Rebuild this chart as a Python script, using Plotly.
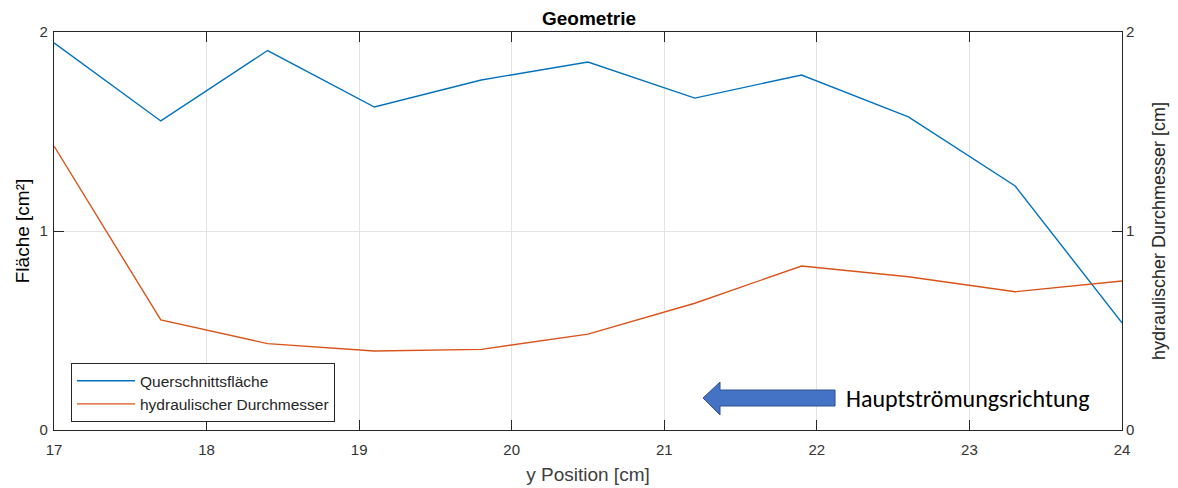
import plotly.graph_objects as go

# Positions along the channel and geometry values
y_position = [17.0, 17.7, 18.4, 19.1, 19.8, 20.5, 21.2, 21.9, 22.6, 23.3, 24.0]
querschnittsflaeche = [1.945, 1.553, 1.907, 1.623, 1.759, 1.849, 1.668, 1.784, 1.573, 1.226, 0.538]
hydraulischer_durchmesser = [1.427, 0.553, 0.434, 0.397, 0.405, 0.482, 0.637, 0.824, 0.770, 0.695, 0.749]

x_ticks = [17, 18, 19, 20, 21, 22, 23, 24]
y_ticks = [0, 1, 2]

BLUE = "#0072BD"
ORANGE = "#D95319"
AXIS = "#262626"
SANS = "Liberation Sans, Arial, sans-serif"
TICKFONT = dict(family=SANS, size=15, color="#333333")

fig = go.Figure()
fig.add_trace(go.Scatter(
    x=y_position, y=querschnittsflaeche, mode="lines",
    name="Querschnittsfläche", line=dict(color=BLUE, width=1.4),
    yaxis="y",
))
fig.add_trace(go.Scatter(
    x=y_position, y=hydraulischer_durchmesser, mode="lines",
    name="hydraulischer Durchmesser", line=dict(color=ORANGE, width=1.4),
    yaxis="y2",
))

# Flow direction arrow (block arrow pointing left)
fig.add_shape(
    type="path", xref="paper", yref="paper",
    path="M 0.6077,0.0804 L 0.6236,0.1206 L 0.6236,0.1005 L 0.7313,0.1005 "
         "L 0.7313,0.0603 L 0.6236,0.0603 L 0.6236,0.0377 Z",
    fillcolor="#4472C4", line=dict(color="#2F528F", width=1),
)
fig.add_annotation(
    x=0.7397, y=0.0804, xref="paper", yref="paper",
    text="Hauptströmungsrichtung", showarrow=False,
    xanchor="left", yanchor="middle",
    font=dict(family="Carlito, Calibri, Open Sans, sans-serif", size=24, color="#000000"),
)

fig.update_layout(
    width=1178, height=488,
    margin=dict(l=54, r=56, t=32, b=58, autoexpand=False),
    paper_bgcolor="white", plot_bgcolor="white",
    title=dict(
        text="<b>Geometrie</b>", x=0.5, xanchor="center", y=0.963, yanchor="middle",
        font=dict(family=SANS, size=19, color="#000000"),
    ),
    xaxis=dict(
        range=[17, 24], tickvals=x_ticks, ticks="inside", ticklen=10,
        tickcolor=AXIS, showline=True, linecolor=AXIS, linewidth=1.2, mirror="ticks",
        showgrid=True, gridcolor="#e3e3e3", gridwidth=1, zeroline=False,
        tickfont=TICKFONT, ticklabelstandoff=6, automargin=False,
        title=dict(text="y Position [cm]", standoff=10,
                   font=dict(family=SANS, size=19, color="#404040")),
    ),
    yaxis=dict(
        range=[0, 2], tickvals=y_ticks, ticks="inside", ticklen=10,
        tickcolor=AXIS, showline=True, linecolor=AXIS, linewidth=1.2, mirror=True,
        showgrid=True, gridcolor="#e3e3e3", gridwidth=1, zeroline=False,
        tickfont=TICKFONT, ticklabelstandoff=2, automargin=False,
        title=dict(text="Fläche [cm²]", standoff=4,
                   font=dict(family=SANS, size=19, color="#000000")),
    ),
    yaxis2=dict(
        range=[0, 2], tickvals=y_ticks, ticks="inside", ticklen=10,
        tickcolor=AXIS, showline=True, linecolor=AXIS, linewidth=1.2,
        overlaying="y", side="right", showgrid=False, zeroline=False,
        tickfont=TICKFONT, automargin=False,
        title=dict(text="hydraulischer Durchmesser [cm]", standoff=18,
                   font=dict(family=SANS, size=18, color="#262626")),
    ),
    legend=dict(
        x=0.0159, y=0.168, xanchor="left", yanchor="top",
        bgcolor="white", bordercolor=AXIS, borderwidth=1,
        font=dict(family=SANS, size=15.5, color="#262626"),
        tracegroupgap=0, itemwidth=58,
    ),
    showlegend=True,
)

fig.write_html("out.html")
